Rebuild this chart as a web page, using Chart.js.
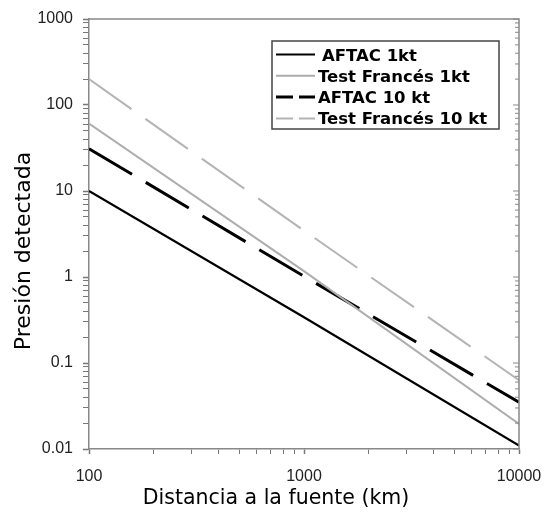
<!DOCTYPE html>
<html>
<head>
<meta charset="utf-8">
<script src="https://cdn.jsdelivr.net/npm/chart.js@4.4.0/dist/chart.umd.min.js"></script>
<style>
    body { margin: 0; background: #fff; }
</style>
</head>
<body>
<canvas id="presionChart" width="544" height="515"></canvas>
<script>
// Distancia a la fuente (km)
const distancias = [100, 1000, 10000];
// Presión detectada de cada serie
const aftac1kt = [10, 0.34, 0.011];
const frances1kt = [61, 1.17, 0.0195];
const aftac10kt = [31, 1.02, 0.035];
const frances10kt = [200, 3.46, 0.063];
// Marcas con etiqueta
const marcasX = [100, 1000, 10000];
const marcasY = [0.01, 0.1, 1, 10, 100, 1000];
const tituloX = 'Distancia a la fuente (km)';
const tituloY = 'Presión detectada';

function puntos(valores) {
    return distancias.map((d, i) => ({ x: d, y: valores[i] }));
}

// Marcas menores 1..9 x 10^n entre min y max
function marcasLog(min, max) {
    const ticks = [];
    for (let e = Math.floor(Math.log10(min)); e <= Math.ceil(Math.log10(max)); e++) {
        for (let m = 1; m <= 9; m++) {
            const v = parseFloat((m * Math.pow(10, e)).toPrecision(6));
            if (v >= min && v <= max) ticks.push({ value: v, major: m === 1 });
        }
    }
    return ticks;
}

// Sin relleno extra por las etiquetas de los extremos
function sinRelleno(s) {
    s.paddingLeft = 0;
    s.paddingRight = 0;
    s.paddingTop = 0;
    s.paddingBottom = 0;
}

// Marco superior y derecho con marcas hacia dentro, y títulos de los ejes
const marcoPlugin = {
    id: 'marco',
    afterDraw(chart) {
        const { ctx, chartArea: a, scales: { y } } = chart;
        ctx.save();
        ctx.strokeStyle = '#888';
        ctx.lineWidth = 1.5;
        ctx.beginPath();
        ctx.moveTo(a.left, a.top);
        ctx.lineTo(a.right, a.top);
        ctx.lineTo(a.right, a.bottom);
        ctx.stroke();
        ctx.lineWidth = 1;
        y.ticks.forEach(t => {
            const py = y.getPixelForValue(t.value);
            ctx.beginPath();
            ctx.moveTo(a.right, py);
            ctx.lineTo(a.right - (t.major ? 6 : 4), py);
            ctx.stroke();
        });

        ctx.fillStyle = '#000';
        ctx.textAlign = 'center';
        ctx.textBaseline = 'middle';
        ctx.font = '20.5px "DejaVu Sans"';
        ctx.fillText(tituloX, 276, 499);
        ctx.translate(24, 251);
        ctx.rotate(-Math.PI / 2);
        ctx.font = '22px "DejaVu Sans"';
        ctx.fillText(tituloY, 0, 0);
        ctx.restore();
    }
};

// Leyenda dentro del área del gráfico
const leyendaPlugin = {
    id: 'leyenda',
    afterDraw(chart) {
        const ctx = chart.ctx;
        ctx.save();
        ctx.fillStyle = '#fff';
        ctx.fillRect(272, 41, 227, 88);
        ctx.strokeStyle = '#444';
        ctx.lineWidth = 1.5;
        ctx.strokeRect(272, 41, 227, 88);
        ctx.font = 'bold 16.5px "DejaVu Sans"';
        ctx.textBaseline = 'alphabetic';
        chart.data.datasets.forEach((ds, i) => {
            const y = 54.5 + i * 21.3;
            ctx.beginPath();
            ctx.setLineDash(ds.borderDash ? [17, 6] : []);
            ctx.strokeStyle = ds.borderColor;
            ctx.lineWidth = ds.borderWidth;
            ctx.moveTo(276, y);
            ctx.lineTo(315, y);
            ctx.stroke();
            ctx.setLineDash([]);
            ctx.fillStyle = '#000';
            ctx.fillText(ds.label, i === 0 ? 322 : 318, y + 6);
        });
        ctx.restore();
    }
};

const tickFont = { family: '"Liberation Sans", Arial, sans-serif', size: 16 };

const ctx = document.getElementById('presionChart').getContext('2d');
const presionChart = new Chart(ctx, {
    type: 'line',
    data: {
        datasets: [{
            label: 'AFTAC 1kt',
            data: puntos(aftac1kt),
            borderColor: '#000',
            borderWidth: 2.2
        }, {
            label: 'Test Francés 1kt',
            data: puntos(frances1kt),
            borderColor: '#adadad',
            borderWidth: 2
        }, {
            label: 'AFTAC 10 kt',
            data: puntos(aftac10kt),
            borderColor: '#000',
            borderWidth: 3,
            borderDash: [50, 16]
        }, {
            label: 'Test Francés 10 kt',
            data: puntos(frances10kt),
            borderColor: '#b4b4b4',
            borderWidth: 2,
            borderDash: [52, 17]
        }]
    },
    options: {
        responsive: false,
        animation: false,
        layout: { padding: { top: 19, right: 25, left: 0, bottom: 0 } },
        elements: {
            point: { radius: 0 },
            line: { tension: 0, fill: false }
        },
        plugins: {
            legend: { display: false },
            tooltip: { enabled: false }
        },
        scales: {
            x: {
                type: 'logarithmic',
                min: 100,
                max: 10000,
                afterBuildTicks: s => { s.ticks = marcasLog(100, 10000); },
                afterFit: s => { s.height = 66; sinRelleno(s); },
                ticks: {
                    autoSkip: false,
                    maxRotation: 0,
                    padding: 13,
                    color: '#222',
                    font: tickFont,
                    callback: v => marcasX.includes(v) ? String(v) : ''
                },
                grid: {
                    drawOnChartArea: false,
                    tickLength: 5,
                    tickColor: '#777',
                    tickWidth: c => (c.tick && c.tick.major ? 1.5 : 1)
                },
                border: { color: '#888', width: 1.5 }
            },
            y: {
                type: 'logarithmic',
                min: 0.01,
                max: 1000,
                afterBuildTicks: s => { s.ticks = marcasLog(0.01, 1000); },
                afterFit: s => { s.width = 89; sinRelleno(s); },
                ticks: {
                    autoSkip: false,
                    padding: 10,
                    color: '#222',
                    font: tickFont,
                    callback: v => marcasY.includes(v) ? String(v) : ''
                },
                grid: {
                    drawOnChartArea: false,
                    tickLength: 6,
                    tickColor: '#777',
                    tickWidth: c => (c.tick && c.tick.major ? 1.5 : 1)
                },
                border: { color: '#888', width: 1.5 }
            }
        }
    },
    plugins: [marcoPlugin, leyendaPlugin]
});
</script>
</body>
</html>
